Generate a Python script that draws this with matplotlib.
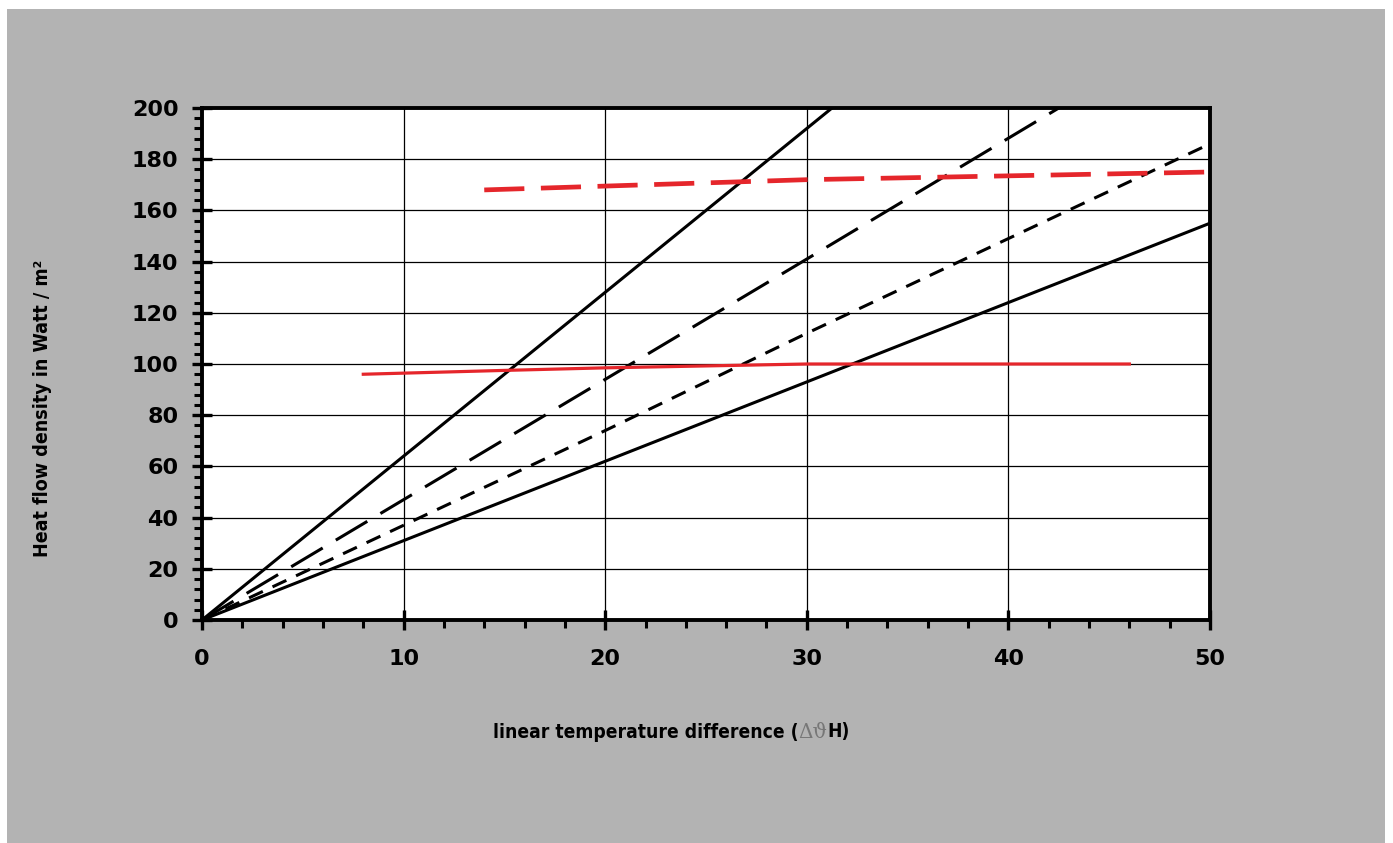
import matplotlib
matplotlib.use("Agg")
import matplotlib.pyplot as plt
from matplotlib.patches import Rectangle
from matplotlib.ticker import MultipleLocator

# Data
x_steep = [0, 10, 20, 30, 31.25]
y_steep = [0, 64, 128, 192, 200]

x_long = [0, 10, 20, 30, 42.5]
y_long = [0, 47, 94, 141, 200]

x_short = [0, 10, 20, 30, 40, 50]
y_short = [0, 37, 74, 112, 149, 186]

x_low = [0, 10, 20, 30, 40, 50]
y_low = [0, 31, 62, 93, 124, 155]

x_red = [8, 15, 20, 30, 46]
y_red = [96, 97.5, 98.5, 100, 100]

x_red_dash = [14, 30, 50]
y_red_dash = [168, 172, 175]

RED = "#e5262b"
GRAY = "#b3b3b3"

fig = plt.figure(figsize=(13.93, 8.43), dpi=100, facecolor="white")
fig.patches.append(Rectangle((7 / 1393, 0), 1378 / 1393, 834 / 843,
                             transform=fig.transFigure, facecolor=GRAY,
                             edgecolor="none", zorder=-5))

ax = fig.add_axes([202 / 1393, 223 / 843, 1008 / 1393, 512 / 843])
ax.set_zorder(2)
ax.set_facecolor("white")

ax.plot(x_steep, y_steep, color="black", lw=2.2, solid_capstyle="butt")
ax.plot(x_long, y_long, color="black", lw=2.2, dashes=(12, 5))
ax.plot(x_short, y_short, color="black", lw=2.2, dashes=(5, 3.5))
ax.plot(x_low, y_low, color="black", lw=2.2)
ax.plot(x_red, y_red, color=RED, lw=2.3)
ax.plot(x_red_dash, y_red_dash, color=RED, lw=3.4, dashes=(8.5, 3.5))

ax.set_xlim(0, 50)
ax.set_ylim(0, 200)
ax.xaxis.set_major_locator(MultipleLocator(10))
ax.xaxis.set_minor_locator(MultipleLocator(2))
ax.yaxis.set_major_locator(MultipleLocator(20))
ax.yaxis.set_minor_locator(MultipleLocator(4))
ax.grid(True, which="major", color="black", lw=0.9)
ax.set_axisbelow(True)

for s in ax.spines.values():
    s.set_linewidth(2.8)
ax.tick_params(which="major", direction="inout", length=14, width=2.4,
               labelsize=16, pad=10)
ax.tick_params(which="minor", direction="out", length=6, width=2.2)
ax.tick_params(axis="x", which="major", pad=14)
for lab in ax.get_xticklabels() + ax.get_yticklabels():
    lab.set_fontweight("bold")

ax.set_ylabel("Heat flow density in Watt / m²", fontsize=14,
              fontweight="bold", fontstretch="condensed")
ax.yaxis.set_label_coords(52 / 1393, 435 / 843, transform=fig.transFigure)

# x label in three pieces so that the symbols can be gray
fig.canvas.draw()
r = fig.canvas.get_renderer()
ly = (843 - 732) / 843
t1 = fig.text(0, ly, "linear temperature difference (", fontsize=13.8,
              fontweight="bold", fontstretch="condensed", va="center")
t2 = fig.text(0, ly, "Δϑ", fontsize=14.5, color="#777777",
              family=["DejaVu Serif"], va="center")
t3 = fig.text(0, ly, "H)", fontsize=13.8, fontweight="bold",
              fontstretch="condensed", va="center")
w1 = t1.get_window_extent(r).width
w2 = t2.get_window_extent(r).width
w3 = t3.get_window_extent(r).width
x0 = 671 - (w1 + w2 + w3) / 2
t1.set_x(x0 / 1393)
t2.set_x((x0 + w1) / 1393)
t3.set_x((x0 + w1 + w2) / 1393)

fig.savefig("out.png", dpi=100, facecolor="white")
